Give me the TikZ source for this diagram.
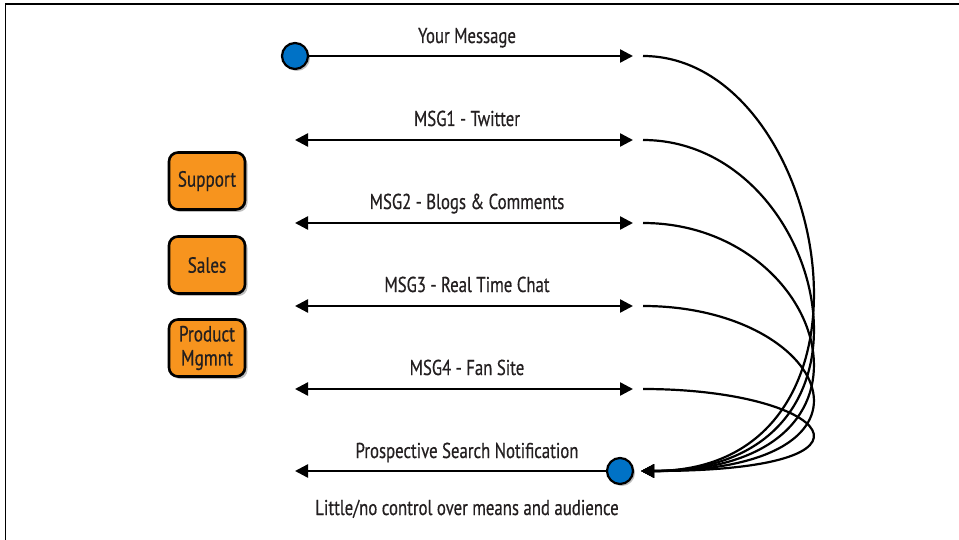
\documentclass[tikz,border=0pt]{standalone}
\usepackage{fontspec}
\setmainfont{PT Sans}[FakeStretch=0.78,FakeBold=0.5]
\usetikzlibrary{arrows.meta,shadows}
\definecolor{boxorange}{RGB}{247,148,30}
\definecolor{dotblue}{RGB}{0,114,198}
\definecolor{txt}{RGB}{35,31,32}
\tikzset{
  lbl/.style={font=\fontsize{21.5}{24}\selectfont, text=txt, anchor=base, inner sep=0pt},
  dept/.style={draw=black, line width=2.6pt, fill=boxorange, rounded corners=9pt,
    minimum width=76pt, minimum height=57pt, align=center, text=txt,
    font=\fontsize{22}{24}\selectfont, inner sep=0pt,
    drop shadow={shadow xshift=2.5pt, shadow yshift=-2.5pt, opacity=0.25, fill=black}},
  dot/.style={circle, draw=black, line width=2.2pt, fill=dotblue, minimum size=26pt, inner sep=0pt,
    drop shadow={shadow xshift=2pt, shadow yshift=-2pt, opacity=0.25, fill=black}},
  msg/.style={line width=2.4pt, -{Triangle[length=13pt,width=13pt]}},
  dmsg/.style={line width=2.4pt, {Triangle[length=13pt,width=13pt]}-{Triangle[length=13pt,width=13pt]}},
  curve/.style={line width=2.2pt, -{Triangle[length=13pt,width=13pt]}},
}
\begin{document}
\begin{tikzpicture}[x=1pt,y=-1pt]
\useasboundingbox (0,0) rectangle (959,540);
% frame
\draw[line width=1.5pt] (5.5,540) -- (5.5,4) -- (959,4);

% departments
\node[dept] (support) at (207,181) {Support};
\node[dept] (sales) at (207,265) {Sales};
\node[dept] (product) at (207,348) {Product\\Mgmnt};

% Your Message row
\node[dot] (src) at (295,56) {};
\coordinate (m0e) at (633,56);
\draw[msg] (src) -- (m0e);
\node[lbl] (l0) at (467,43) {Your Message};

% MSG rows
\coordinate (m1s) at (295,140); \coordinate (m1e) at (633,140);
\coordinate (m2s) at (295,223); \coordinate (m2e) at (633,223);
\coordinate (m3s) at (295,306); \coordinate (m3e) at (633,306);
\coordinate (m4s) at (295,389); \coordinate (m4e) at (633,389);
\draw[dmsg] (m1s) -- (m1e);
\draw[dmsg] (m2s) -- (m2e);
\draw[dmsg] (m3s) -- (m3e);
\draw[dmsg] (m4s) -- (m4e);
\node[lbl] (l1) at (467,126) {MSG1 - Twitter};
\node[lbl] (l2) at (467,209) {MSG2 - Blogs \& Comments};
\node[lbl] (l3) at (467,292) {MSG3 - Real Time Chat};
\node[lbl] (l4) at (467,375) {MSG4 - Fan Site};

% Prospective row
\node[dot] (dst) at (620,471) {};
\coordinate (pend) at (295,471);
\draw[msg] (dst) -- (pend);
\node[lbl] (l5) at (467,458) {Prospective Search Notification};
\node[lbl] (l6) at (467,515) {Little/no control over means and audience};

% curves
\coordinate (tip) at (641,471);
\coordinate (c0) at (643,56);
\coordinate (c1) at (643,140);
\coordinate (c2) at (643,223);
\coordinate (c3) at (643,306);
\coordinate (c4) at (643,389);
\foreach \c in {c0,c1,c2,c3,c4}{
  \draw[curve] (\c) .. controls +(185,0) and +(265,0) .. (tip);
}
\end{tikzpicture}
\end{document}
